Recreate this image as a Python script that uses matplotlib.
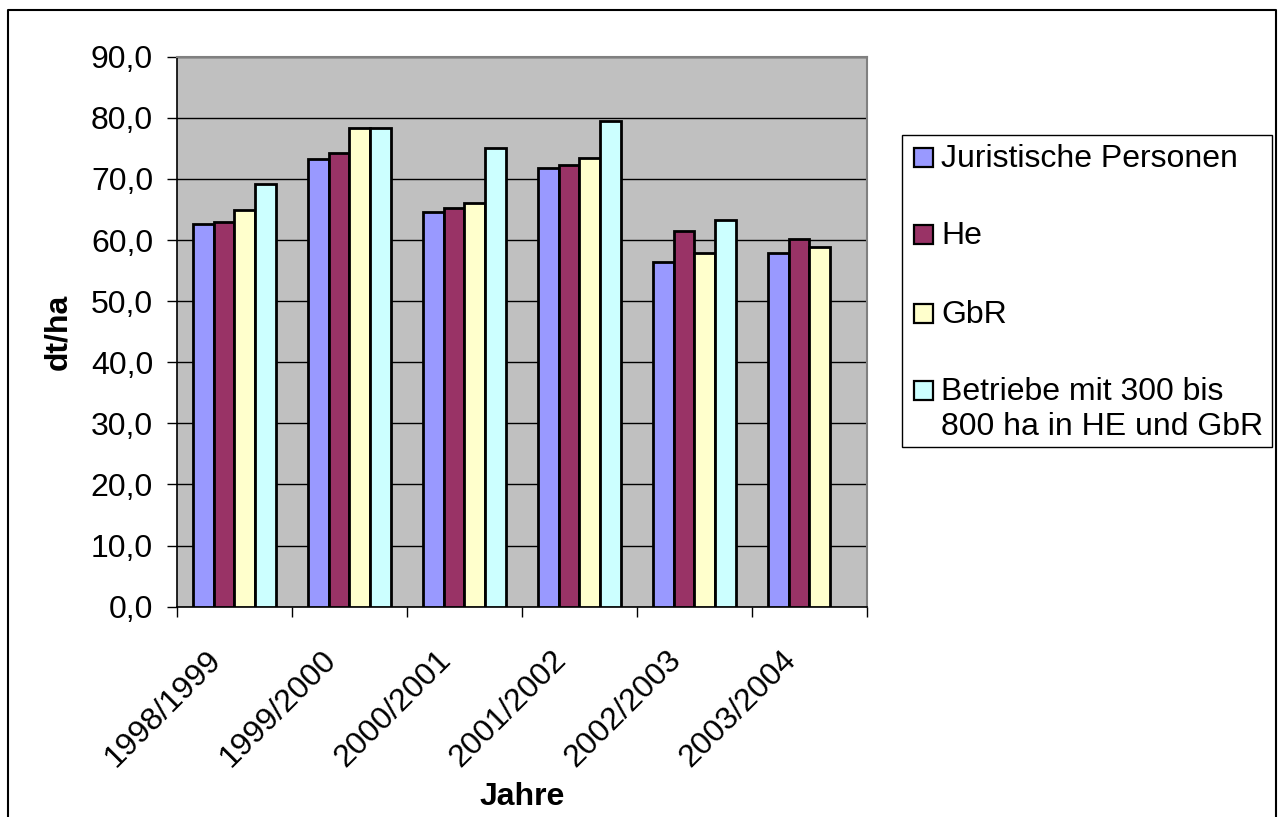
import numpy as np
import matplotlib
matplotlib.use("Agg")
import matplotlib.pyplot as plt
from matplotlib.patches import Rectangle
from matplotlib.lines import Line2D
from matplotlib.transforms import ScaledTranslation

plt.rcParams['font.family'] = ['Liberation Sans', 'DejaVu Sans']

years = ["1998/1999", "1999/2000", "2000/2001", "2001/2002", "2002/2003", "2003/2004"]
series = ["Juristische Personen", "He", "GbR", "Betriebe mit 300 bis\n800 ha in HE und GbR"]
jur = [62.6, 73.2, 64.6, 71.8, 56.4, 57.8]
he = [62.9, 74.2, 65.3, 72.3, 61.4, 60.1]
gbr = [64.9, 78.4, 66.0, 73.4, 57.8, 58.8]
betr = [69.1, 78.3, 75.0, 79.5, 63.3, np.nan]
colors = ["#9999FF", "#993366", "#FFFFCC", "#CCFFFF"]

W, H = 1283, 817
FS = 23
fig = plt.figure(figsize=(W/100, H/100), dpi=100)
ax = fig.add_axes([177/W, 1-606.7/H, (866.7-177)/W, (606.7-56.7)/H])
ax.set_facecolor("#C0C0C0")

x = np.arange(len(years))
bw = 0.18
for i, vals in enumerate([jur, he, gbr, betr]):
    ax.bar(x + (i-1.5)*bw, vals, bw, color=colors[i], edgecolor="black",
           linewidth=2.0, label=series[i], zorder=3)

ax.set_xlim(-0.5, len(years)-0.5)
ax.set_ylim(0, 90)
ax.set_yticks(np.arange(0, 91, 10))
ax.set_yticklabels([f"{v:.1f}".replace(".", ",") for v in np.arange(0, 91, 10)])
ax.yaxis.grid(True, color="black", linewidth=1.0, zorder=1)
ax.set_axisbelow(True)

ax.set_xticks(x)
ax.set_xticklabels(years, rotation=45, ha="right", va="baseline", rotation_mode="anchor")
ax.set_xticks(np.arange(-0.5, len(years)), minor=True)
ax.tick_params(axis="x", which="major", length=0, pad=39, labelsize=FS)
ax.tick_params(axis="x", which="minor", length=7.2, width=1, direction="out")
ax.tick_params(axis="y", length=7.2, width=1, pad=10, labelsize=FS)
for lab in ax.get_xticklabels():
    lab.set_transform(lab.get_transform() + ScaledTranslation(-12/100, 0, fig.dpi_scale_trans))

for s in ["top", "right"]:
    ax.spines[s].set_color("#808080")
    ax.spines[s].set_linewidth(1.5)
for s in ["left", "bottom"]:
    ax.spines[s].set_color("black")
    ax.spines[s].set_linewidth(1.2)

ax.set_ylabel("dt/ha", fontsize=FS, fontweight="bold")
ax.yaxis.set_label_coords(-0.151, 0.5)
ax.set_xlabel("Jahre", fontsize=FS, fontweight="bold")
ax.xaxis.set_label_coords(0.5, -0.319)

# legend box, drawn by hand so the two-line entry keeps its marker on the first line
ft = fig.transFigure
fig.add_artist(Rectangle((901.7/W, 1-446.7/H), (1271.7-901.7)/W, (446.7-135)/H,
                         transform=ft, facecolor="white", edgecolor="black", linewidth=1.0))
baselines = [166.7, 244, 322.7, 400]
for name, col, yb in zip(series, colors, baselines):
    fig.add_artist(Rectangle((913.5/W, 1-yb/H), 19/W, 19/H, transform=ft,
                             facecolor=col, edgecolor="black", linewidth=1.6))
    for k, line in enumerate(name.split("\n")):
        fig.text(941/W, 1-(yb + 35*k)/H, line, fontsize=FS, va="baseline", ha="left")

# outer frame of the chart
fig.add_artist(Line2D([8/W, 8/W, 1276/W, 1276/W], [0, 1-10/H, 1-10/H, 0],
                      transform=ft, color="black", linewidth=1.5))

fig.savefig("out.png", dpi=100)
